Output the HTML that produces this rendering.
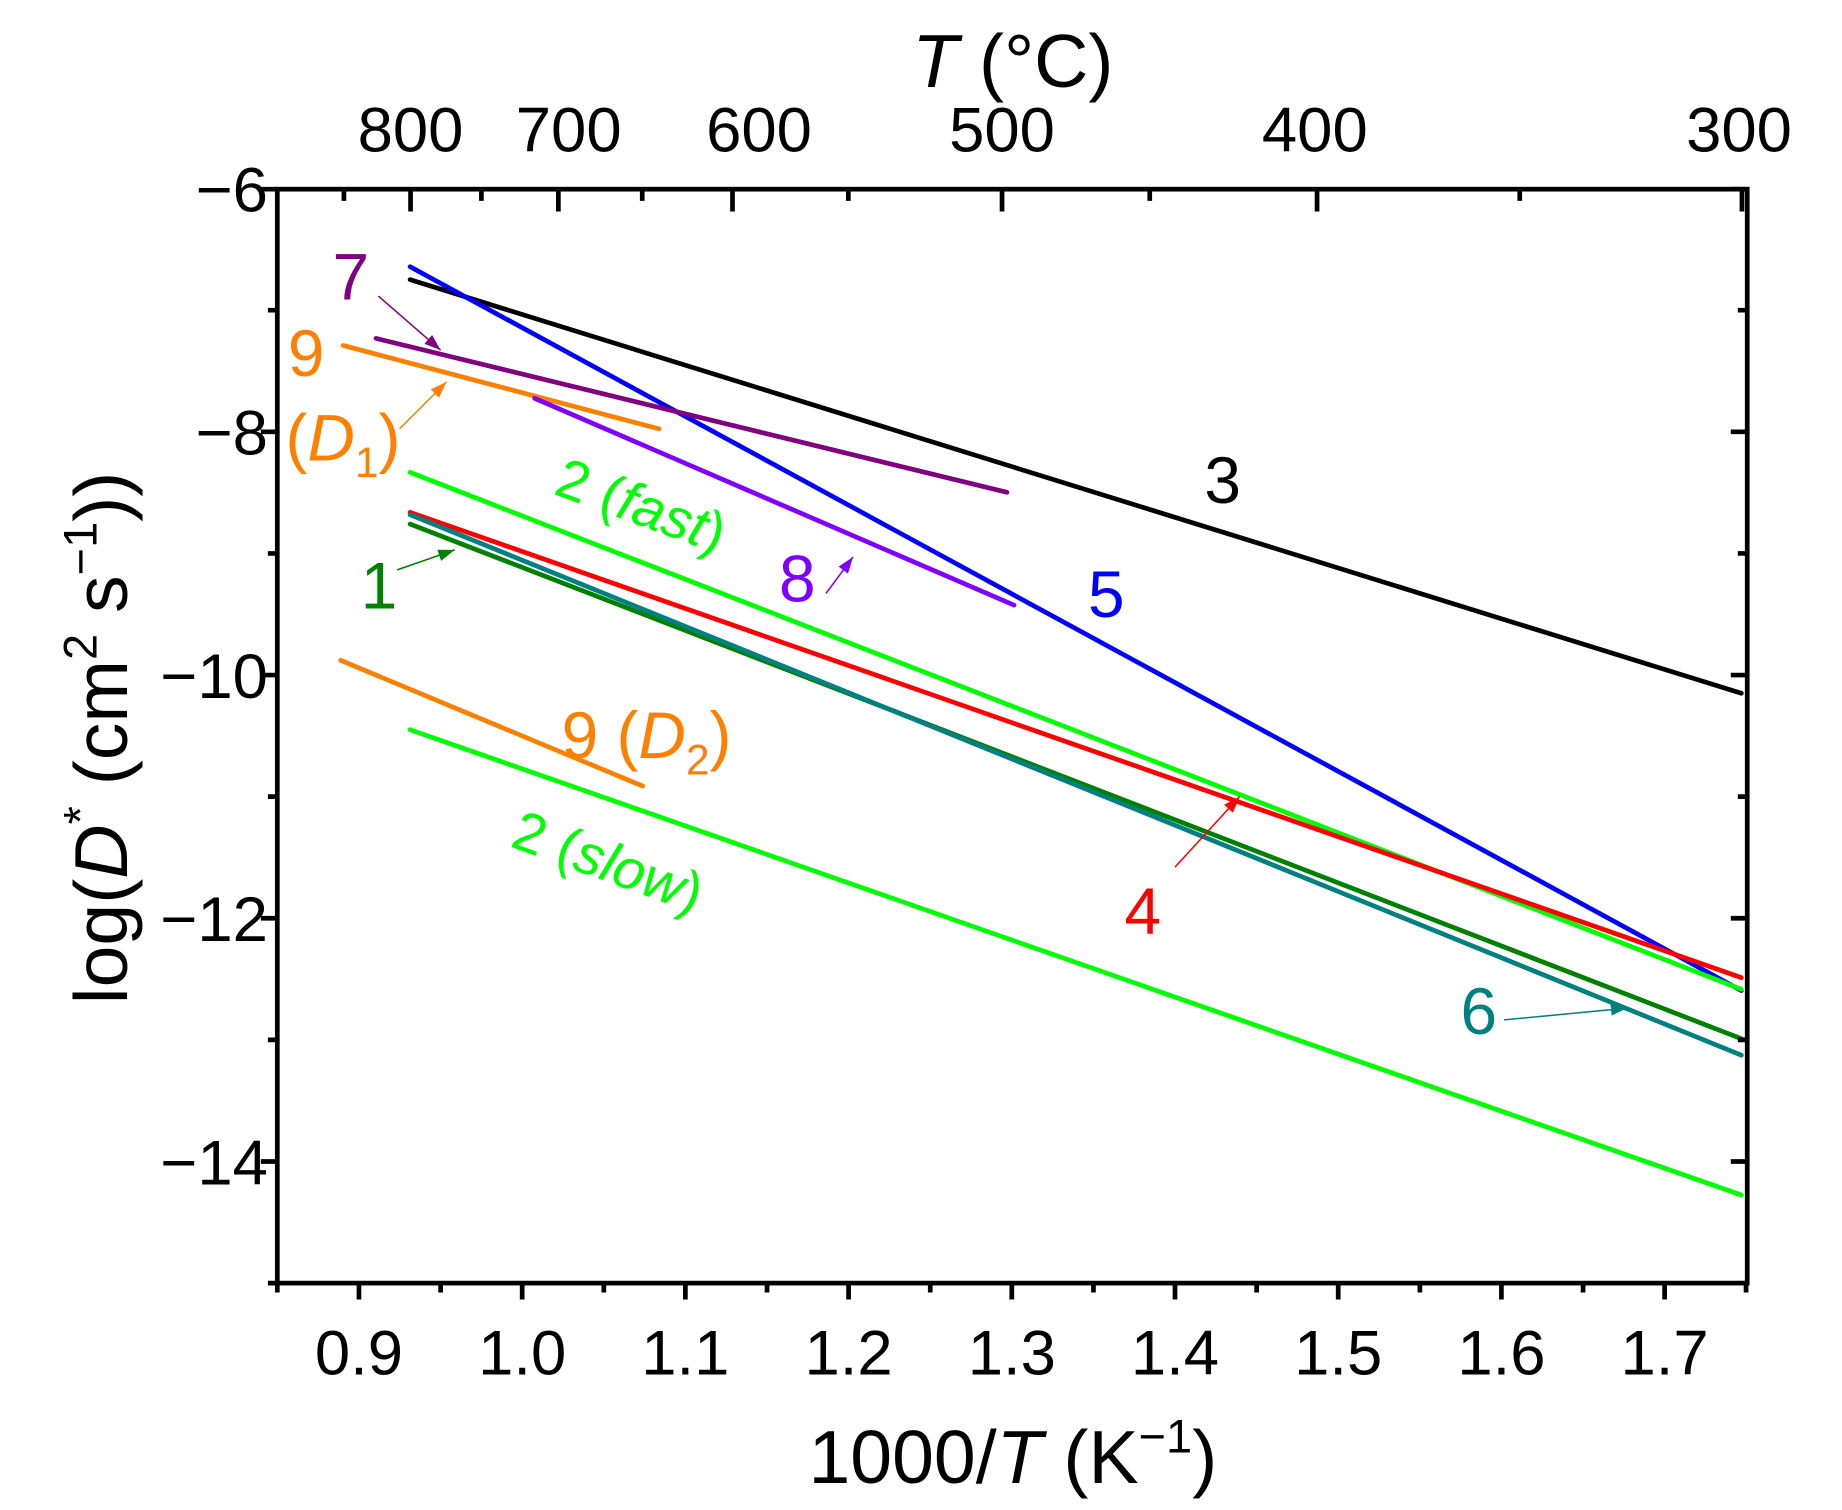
<!DOCTYPE html>
<html><head><meta charset="utf-8"><style>html,body{margin:0;padding:0;background:#fff}svg{display:block}</style></head>
<body>
<svg xmlns="http://www.w3.org/2000/svg" width="1842" height="1510" viewBox="0 0 1567.66 1285.1" font-family="Liberation Sans, sans-serif">
<defs>
<marker id="m" viewBox="0 0 10 10" refX="10" refY="5" markerWidth="14" markerHeight="10" orient="auto" markerUnits="userSpaceOnUse" preserveAspectRatio="none"><path d="M0,0 L10,5 L0,10 Z" fill="context-stroke"/></marker>
</defs>
<rect width="100%" height="100%" fill="#fff"/>
<g stroke-width="4" fill="none" stroke-linecap="round">
<line x1="349" y1="238" x2="1482" y2="590" stroke="#000"/>
<line x1="349" y1="227" x2="1482" y2="843" stroke="#0000ff"/>
<line x1="320" y1="288" x2="857" y2="419" stroke="#800080"/>
<line x1="292" y1="294" x2="561" y2="365" stroke="#ff8000"/>
<line x1="455" y1="339" x2="863" y2="515" stroke="#8000ff"/>
<line x1="349" y1="402" x2="1482" y2="842" stroke="#00ff00"/>
<line x1="349" y1="436" x2="1482" y2="832" stroke="#ff0000"/>
<line x1="349" y1="446" x2="1482" y2="884" stroke="#008000"/>
<line x1="349" y1="438" x2="1482" y2="898" stroke="#008080"/>
<line x1="290" y1="562" x2="547" y2="669" stroke="#ff8000"/>
<line x1="349" y1="621" x2="1482" y2="1017" stroke="#00ff00"/>
</g>
<g stroke-width="1.3">
<line x1="322" y1="252" x2="375" y2="298" stroke="#800080" marker-end="url(#m)"/>
<line x1="340" y1="365" x2="380" y2="325" stroke="#ff8000" marker-end="url(#m)"/>
<line x1="338" y1="485" x2="387" y2="468" stroke="#008000" marker-end="url(#m)"/>
<line x1="703" y1="505" x2="726" y2="474" stroke="#8000ff" marker-end="url(#m)"/>
<line x1="1000" y1="738" x2="1055" y2="678" stroke="#ff0000" marker-end="url(#m)"/>
<line x1="1280" y1="868" x2="1385" y2="858" stroke="#008080" marker-end="url(#m)"/>
</g>
<g font-size="56">
<text x="283" y="255" fill="#800080">7</text>
<text x="245" y="320" fill="#ff8000">9</text>
<text x="243" y="392" fill="#ff8000">(<tspan font-style="italic">D</tspan><tspan font-size="36" dy="14">1</tspan><tspan dy="-14">)</tspan></text>
<text x="1025" y="428" fill="#000">3</text>
<text x="926" y="525" fill="#0000ff">5</text>
<text x="663" y="512" fill="#8000ff">8</text>
<text x="307" y="518" fill="#008000">1</text>
<text x="478" y="645" fill="#ff8000">9 (<tspan font-style="italic">D</tspan><tspan font-size="36" dy="14">2</tspan><tspan dy="-14">)</tspan></text>
<text x="957" y="795" fill="#ff0000">4</text>
<text x="1243" y="880" fill="#008080">6</text>
<text x="470" y="420" fill="#00ff00" font-size="48" transform="rotate(20 470 420)">2 (<tspan font-style="italic">fast</tspan>)</text>
<text x="433" y="720" fill="#00ff00" font-size="48" transform="rotate(20 433 720)">2 (<tspan font-style="italic">slow</tspan>)</text>
</g>
<g stroke="#000" stroke-width="4" fill="none">
<rect x="236" y="161" width="1251" height="931"/>
<path d="M236,161h-14M236,367.5h-14M236,574.5h-14M236,781.5h-14M236,988.5h-14
M236,264h-8M236,471h-8M236,678h-8M236,885h-8M236,1092h-8
M1487,161h-14M1487,367.5h-14M1487,574.5h-14M1487,781.5h-14M1487,988.5h-14
M1487,264h-8M1487,471h-8M1487,678h-8M1487,885h-8"/>
<path d="M305.5,1092v14M444.4,1092v14M583.3,1092v14M722.2,1092v14M861.1,1092v14M1000,1092v14M1138.9,1092v14M1277.8,1092v14M1416.7,1092v14
M236,1092v8M375,1092v8M513.9,1092v8M652.8,1092v8M791.7,1092v8M930.6,1092v8M1069.5,1092v8M1208.4,1092v8M1347.3,1092v8M1486,1092v8"/>
<path d="M349.4,161v19M475.2,161v19M623.4,161v19M852.8,161v19M1120.9,161v19M1482.5,161v19
M292.7,161v10M409.7,161v10M546.6,161v10M722,161v10M978.5,161v10M1293.4,161v10"/>
</g>
<g font-size="54" fill="#000">
<g text-anchor="end">
<text x="228" y="180">−6</text>
<text x="228" y="387">−8</text>
<text x="228" y="594">−10</text>
<text x="228" y="801">−12</text>
<text x="228" y="1008">−14</text>
</g>
<g text-anchor="middle">
<text x="305.5" y="1170">0.9</text>
<text x="444.4" y="1170">1.0</text>
<text x="583.3" y="1170">1.1</text>
<text x="722.2" y="1170">1.2</text>
<text x="861.1" y="1170">1.3</text>
<text x="1000" y="1170">1.4</text>
<text x="1138.9" y="1170">1.5</text>
<text x="1277.8" y="1170">1.6</text>
<text x="1416.7" y="1170">1.7</text>
<text x="349.4" y="129">800</text>
<text x="484" y="129">700</text>
<text x="646" y="129">600</text>
<text x="852.8" y="129">500</text>
<text x="1119" y="129">400</text>
<text x="1480" y="129">300</text>
</g>
</g>
<text x="862" y="74" font-size="64" text-anchor="middle"><tspan font-style="italic">T</tspan> (°C)</text>
<text x="862" y="1262" font-size="64" text-anchor="middle">1000/<tspan font-style="italic">T</tspan> (K<tspan font-size="40" dy="-26">−1</tspan><tspan dy="26">)</tspan></text>
<text transform="translate(108 628) rotate(-90)" font-size="64" text-anchor="middle">log(<tspan font-style="italic">D</tspan><tspan font-size="40" dy="-26">*</tspan><tspan dy="26"> (cm</tspan><tspan font-size="40" dy="-26">2</tspan><tspan dy="26"> s</tspan><tspan font-size="40" dy="-26">−1</tspan><tspan dy="26">))</tspan></text>
</svg>
</body></html>
